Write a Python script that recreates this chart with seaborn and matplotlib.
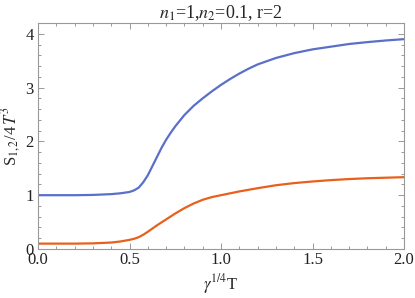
import numpy as np
import pandas as pd
import matplotlib
matplotlib.use("Agg")
import matplotlib.pyplot as plt
import seaborn as sns
from matplotlib.ticker import MultipleLocator

# values
x_vals = [0.0, 0.1, 0.2, 0.3, 0.4, 0.45, 0.5, 0.525, 0.55, 0.575, 0.6, 0.625, 0.65, 0.675,
          0.7, 0.725, 0.75, 0.8, 0.85, 0.9, 0.95, 1.0, 1.05, 1.1, 1.15, 1.2, 1.3, 1.4, 1.5,
          1.6, 1.7, 1.8, 1.9, 2.0]
s1_vals = [1.0, 1.0, 1.0, 1.005, 1.02, 1.035, 1.06, 1.09, 1.14, 1.24, 1.37, 1.54, 1.71, 1.88,
           2.03, 2.16, 2.28, 2.49, 2.66, 2.8, 2.93, 3.05, 3.16, 3.26, 3.35, 3.43, 3.55, 3.64,
           3.71, 3.76, 3.81, 3.845, 3.875, 3.90]
s2_vals = [0.1, 0.1, 0.1, 0.105, 0.12, 0.14, 0.17, 0.19, 0.22, 0.265, 0.32, 0.38, 0.44, 0.495,
           0.55, 0.605, 0.66, 0.76, 0.845, 0.915, 0.965, 1.0, 1.035, 1.07, 1.10, 1.13, 1.185,
           1.225, 1.255, 1.28, 1.30, 1.315, 1.325, 1.335]

df = pd.DataFrame({"x": x_vals * 2,
                   "S": s1_vals + s2_vals,
                   "series": ["S1"] * len(x_vals) + ["S2"] * len(x_vals)})

sns.set_style("ticks")
plt.rcParams["font.family"] = ["Liberation Serif", "DejaVu Serif"]
plt.rcParams["mathtext.fontset"] = "stix"

fig = plt.figure(figsize=(4.15, 2.98), dpi=100)
ax = fig.add_axes([0.0916, 0.1644, 0.8819, 0.7584])

sns.lineplot(data=df, x="x", y="S", hue="series", palette=["#5a6fc8", "#e8601c"],
             linewidth=1.6, legend=False, ax=ax)

ax.set_xlim(0, 2.0)
ax.set_ylim(0, 4.2)
ax.xaxis.set_major_locator(MultipleLocator(0.5))
ax.xaxis.set_minor_locator(MultipleLocator(0.1))
ax.yaxis.set_major_locator(MultipleLocator(1))
ax.yaxis.set_minor_locator(MultipleLocator(0.2))
ax.xaxis.set_major_formatter(matplotlib.ticker.FormatStrFormatter("%.1f"))

for sp in ax.spines.values():
    sp.set_color("#999999")
    sp.set_linewidth(0.8)
ax.tick_params(which="both", direction="in", top=True, right=True, color="#999999",
               labelsize=12, labelcolor="#222222", width=0.7)
ax.tick_params(which="major", length=4, pad=2)
ax.tick_params(axis="y", which="major", pad=3)
ax.tick_params(which="minor", length=2.2)

ax.set_xlabel(r"$\gamma^{1/4}$T", fontsize=12, labelpad=3)
ax.set_ylabel(r"S$_{1,2}$/4$\,T^3$", fontsize=12, labelpad=2)
ax.set_title(r"$n_1$=1,$n_2$=0.1, r=2", fontsize=13, pad=2)

fig.savefig("out.png", dpi=100)
